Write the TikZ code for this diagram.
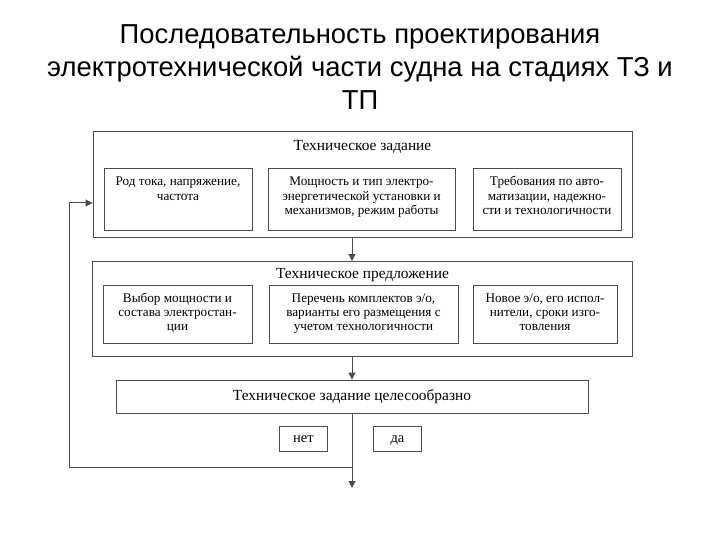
\documentclass[tikz,border=0pt]{standalone}
\usepackage{fontspec}
\setmainfont{Liberation Serif}
\newfontfamily\titlefont{Liberation Sans}
\usetikzlibrary{arrows.meta}
\begin{document}
\begin{tikzpicture}[x=1pt,y=-1pt,
  frame/.style={draw=black!70, line width=0.9pt, rectangle, inner sep=0pt},
  head/.style={font=\fontsize{15.4}{17}\selectfont, inner sep=0pt},
  itext/.style={font=\fontsize{13.2}{14.3}\selectfont, align=center, inner sep=0pt},
  small/.style={font=\fontsize{14.5}{16}\selectfont, text height=10pt, text depth=3pt},
  conn/.style={draw=black!70, line width=1pt},
  arr/.style={conn, -{Triangle[length=7pt,width=7pt]}}]
\useasboundingbox (0,0) rectangle (720,540);
\node[font=\titlefont\fontsize{27.4}{33}\selectfont, align=center, anchor=north, inner sep=0pt] (title) at (360,24)
  {Последовательность проектирования\\электротехнической части судна на стадиях ТЗ и\\ТП};
% block 1
\node[frame, minimum width=539, minimum height=106] (tz) at (362.5,184.5) {};
\node[head] (tzh) at (362.5,147) {Техническое задание};
\node[frame, minimum width=148, minimum height=62] (a1) at (178,199) {};
\node[frame, minimum width=187, minimum height=62] (b1) at (361.5,199) {};
\node[frame, minimum width=148, minimum height=62] (c1) at (547,199) {};
\node[itext, anchor=north] (a1t) at ([yshift=-8pt]a1.north) {\rule{0pt}{10pt}Род тока, напряжение,\\частота};
\node[itext, anchor=north] (b1t) at ([yshift=-8pt]b1.north) {\rule{0pt}{10pt}Мощность и тип электро-\\энергетической установки и\\механизмов, режим работы};
\node[itext, anchor=north] (c1t) at ([yshift=-8pt]c1.north) {\rule{0pt}{10pt}Требования по авто-\\матизации, надежно-\\сти и технологичности};
% block 2
\node[frame, minimum width=540, minimum height=95] (tp) at (362.5,309) {};
\node[head] (tph) at (362.5,275) {Техническое предложение};
\node[frame, minimum width=149, minimum height=58] (a2) at (177.5,314.5) {};
\node[frame, minimum width=189, minimum height=58] (b2) at (363.5,314.5) {};
\node[frame, minimum width=144, minimum height=58] (c2) at (545,314.5) {};
\node[itext, anchor=north] (a2t) at ([yshift=-7pt]a2.north) {\rule{0pt}{10pt}Выбор мощности и\\состава электростан-\\ции};
\node[itext, anchor=north] (b2t) at ([yshift=-7pt]b2.north) {\rule{0pt}{10pt}Перечень комплектов э/о,\\варианты его размещения с\\учетом технологичности};
\node[itext, anchor=north] (c2t) at ([yshift=-7pt]c2.north) {\rule{0pt}{10pt}Новое э/о, его испол-\\нители, сроки изго-\\товления};
% block 3
\node[frame, minimum width=472, minimum height=33, head] (tzc) at (352,396.5) {Техническое задание целесообразно};
\node[frame, minimum width=48, minimum height=25, small] (no) at (303.5,439) {нет};
\node[frame, minimum width=48, minimum height=25, small] (yes) at (397.5,439) {да};
% connectors
\coordinate (col) at (352,0);
\coordinate (out) at (352,488);
\coordinate (fb) at (69,467);
\coordinate (fbtop) at (69,203);
\draw[arr] (tz.south -| col) -- (tp.north -| col);
\draw[arr] (tp.south -| col) -- (tzc.north -| col);
\draw[arr] (tzc.south -| col) -- (out);
\draw[arr] (col |- fb) -- (fb) -- (fbtop) -- (tz.west |- fbtop);
\end{tikzpicture}
\end{document}
